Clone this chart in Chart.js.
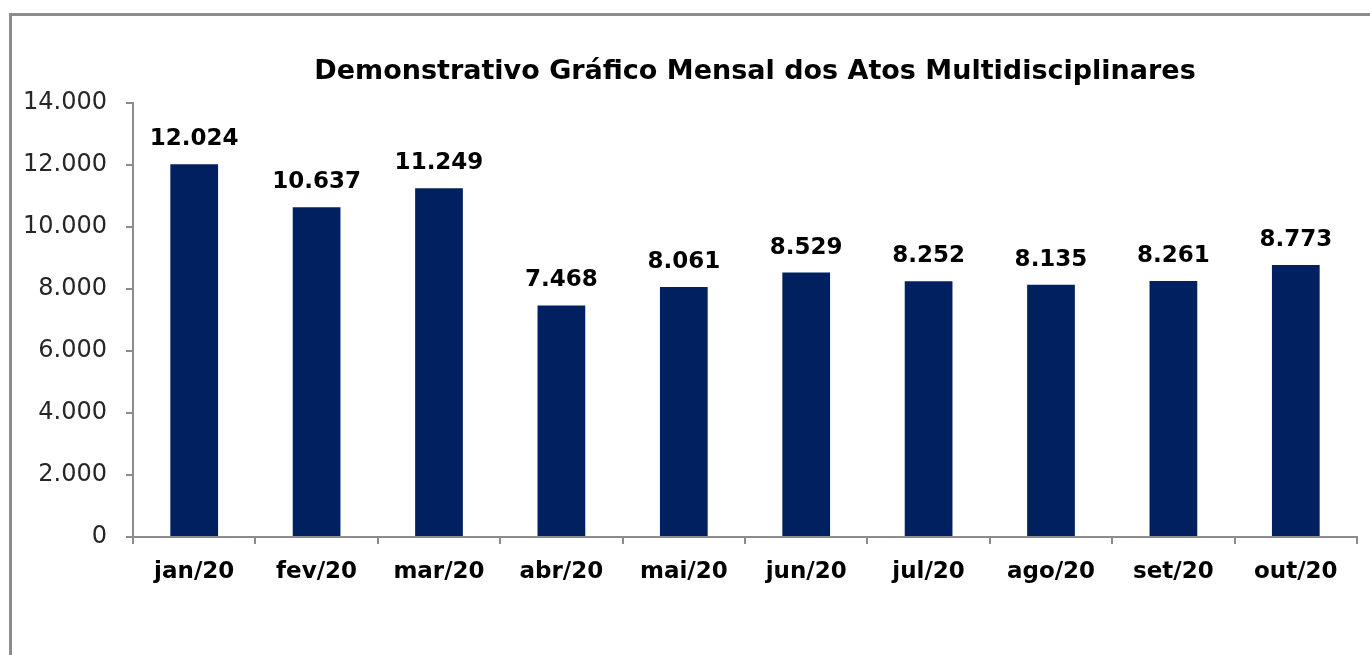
<!DOCTYPE html>
<html>
<head>
<meta charset="utf-8">
<script src="https://cdn.jsdelivr.net/npm/chart.js@4.4.1/dist/chart.umd.min.js"></script>
<style>
html,body{margin:0;padding:0;background:#fff;}
#wrap{width:1370px;height:655px;position:relative;}
</style>
</head>
<body>
<div id="wrap"><canvas id="c" width="1370" height="655"></canvas></div>
<script>
const categories = ["jan/20","fev/20","mar/20","abr/20","mai/20","jun/20","jul/20","ago/20","set/20","out/20"];
const values = [12024, 10637, 11249, 7468, 8061, 8529, 8252, 8135, 8261, 8773];
const chartTitle = "Demonstrativo Gráfico Mensal dos Atos Multidisciplinares";
const yMin = 0, yMax = 14000, yStep = 2000;

function fmt(v){ return String(Math.round(v)).replace(/\B(?=(\d{3})+(?!\d))/g, "."); }

const frame = {
  id: 'frame',
  beforeDraw(chart){
    const ctx = chart.ctx;
    ctx.save();
    ctx.fillStyle = '#fff';
    ctx.fillRect(0,0,chart.width,chart.height);
    ctx.strokeStyle = '#8c8c8c';
    ctx.lineWidth = 3;
    ctx.beginPath();
    ctx.moveTo(10.5, chart.height);
    ctx.lineTo(10.5, 14.5);
    ctx.lineTo(chart.width, 14.5);
    ctx.stroke();
    ctx.font = 'bold 27px "DejaVu Sans"';
    ctx.fillStyle = '#000';
    ctx.textAlign = 'center';
    ctx.textBaseline = 'alphabetic';
    ctx.fillText(chartTitle, 755, 79);
    ctx.restore();
  }
};

const valueLabels = {
  id: 'valueLabels',
  afterDatasetsDraw(chart){
    const ctx = chart.ctx;
    const meta = chart.getDatasetMeta(0);
    ctx.save();
    ctx.font = 'bold 23px "DejaVu Sans"';
    ctx.fillStyle = '#000';
    ctx.textAlign = 'center';
    ctx.textBaseline = 'alphabetic';
    meta.data.forEach((bar, i) => {
      ctx.fillText(fmt(chart.data.datasets[0].data[i]), bar.x, bar.y - 19);
    });
    ctx.restore();
  }
};

new Chart(document.getElementById('c'), {
  type: 'bar',
  data: {
    labels: categories,
    datasets: [{
      data: values,
      backgroundColor: '#002060',
      borderWidth: 0,
      barPercentage: 0.39,
      categoryPercentage: 1.0
    }]
  },
  options: {
    responsive: false,
    animation: false,
    devicePixelRatio: 1,
    layout: { padding: { left: 0, right: 13, top: 103, bottom: 0 } },
    plugins: {
      legend: { display: false },
      tooltip: { enabled: false },
      title: { display: false }
    },
    scales: {
      x: {
        afterFit(s){ s.height = 118; },
        grid: { display: true, drawOnChartArea: false, drawTicks: true, tickLength: 7, color: '#8c8c8c', lineWidth: 2, offset: true },
        border: { display: true, color: '#8c8c8c', width: 2 },
        ticks: { color: '#000', padding: 14, font: { family: 'DejaVu Sans', size: 23, weight: 'bold' }, maxRotation: 0 }
      },
      y: {
        min: yMin, max: yMax,
        afterFit(s){ s.width = 133; },
        grid: { display: true, drawOnChartArea: false, drawTicks: true, tickLength: 7, color: '#8c8c8c', lineWidth: 2 },
        border: { display: true, color: '#8c8c8c', width: 2 },
        ticks: { stepSize: yStep, color: '#262626', padding: 19, font: { family: 'DejaVu Sans', size: 24 }, callback: v => fmt(v) }
      }
    }
  },
  plugins: [frame, valueLabels]
});
</script>
</body>
</html>
